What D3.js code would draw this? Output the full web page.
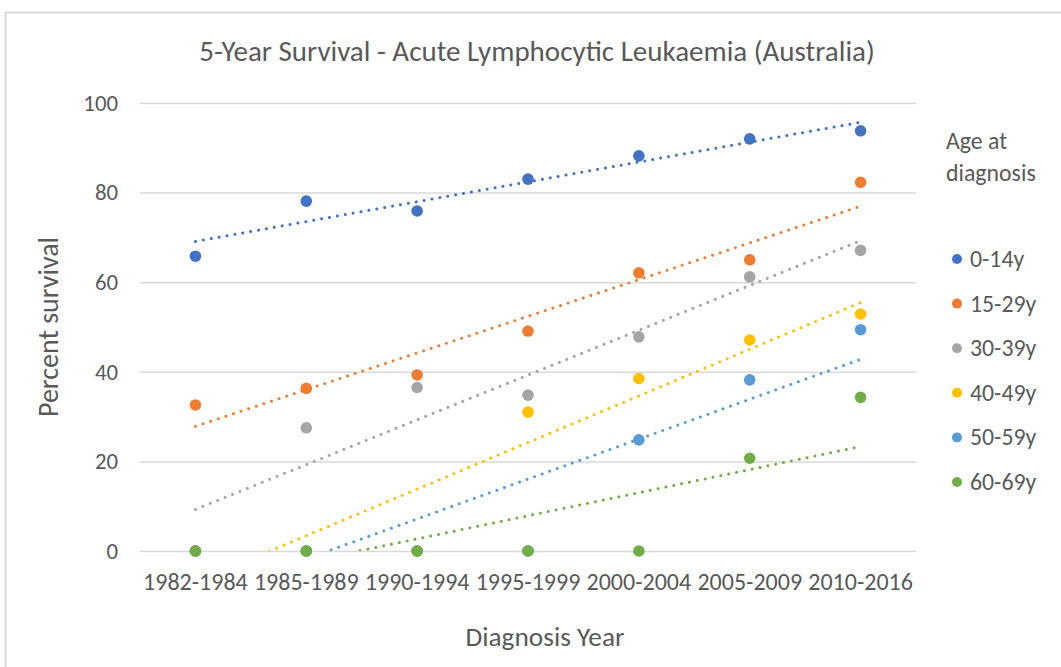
<!DOCTYPE html>
<html><head><meta charset="utf-8">
<script src="https://cdn.jsdelivr.net/npm/d3@7"></script>
<style>
body{margin:0;background:#fff}
text{font-family:Carlito,Calibri,Lato,sans-serif;fill:#595959}
</style>
</head><body>
<svg id="c" width="1061" height="667"></svg>
<script>
const categories = ["1982-1984","1985-1989","1990-1994","1995-1999","2000-2004","2005-2009","2010-2016"];
const seriesNames = ["0-14y","15-29y","30-39y","40-49y","50-59y","60-69y"];
const s0_14  = [65.8,78.1,75.9,83.0,88.2,92.0,93.8];
const s15_29 = [32.6,36.3,39.3,49.1,62.1,65.0,82.3];
const s30_39 = [0,27.5,36.5,34.8,47.8,61.2,67.1];
const s40_49 = [0,0,0,31.0,38.5,47.1,52.9];
const s50_59 = [0,0,0,0,24.8,38.2,49.4];
const s60_69 = [0,0,0,0,0,20.7,34.3];
const seriesValues = [s0_14,s15_29,s30_39,s40_49,s50_59,s60_69];
const colors = ["#4472C4","#ED7D31","#A5A5A5","#FFC000","#5B9BD5","#70AD47"];
const yTicks = [0,20,40,60,80,100];
const chartTitle = "5-Year Survival - Acute Lymphocytic Leukaemia (Australia)";
const xTitle = "Diagnosis Year";
const yTitle = "Percent survival";
const legendTitle = ["Age at","diagnosis"];

const svg = d3.select("#c");
const L = 140, R = 916, T = 103, B = 551;

// outer frame
svg.append("path").attr("d",`M5.5,667 V12.5 H1061`).attr("fill","none").attr("stroke","#d9d9d9").attr("stroke-width",2);

const x = d3.scaleBand().domain(categories).range([L,R]);
const y = d3.scaleLinear().domain([0,100]).range([B,T]);
const cx = c => x(c) + x.bandwidth()/2;

// y gridlines + labels
const ya = svg.append("g").attr("transform",`translate(${L},0)`)
  .call(d3.axisLeft(y).tickValues(yTicks).tickSize(-(R-L)).tickPadding(22));
ya.select(".domain").remove();
ya.selectAll(".tick line").attr("stroke","#d9d9d9").attr("stroke-width",1.5);
ya.selectAll(".tick text").attr("font-size",22.8).attr("font-family",null).attr("fill","#595959");

// x labels
const xa = svg.append("g").attr("transform",`translate(0,${B})`)
  .call(d3.axisBottom(x).tickSize(0).tickPadding(39));
xa.select(".domain").remove();
xa.selectAll(".tick text").attr("font-size",24).attr("font-family",null).attr("fill","#595959").attr("dy","0");

// clip
svg.append("clipPath").attr("id","pc").append("rect").attr("x",L).attr("y",T).attr("width",R-L).attr("height",B-T);

// trendlines (least squares on category index)
const gT = svg.append("g").attr("clip-path","url(#pc)");
seriesValues.forEach((vals,i)=>{
  const xs = vals.map((v,k)=>k+1);
  const mx = d3.mean(xs), my = d3.mean(vals);
  const slope = d3.sum(xs,(xv,k)=>(xv-mx)*(vals[k]-my))/d3.sum(xs,xv=>(xv-mx)*(xv-mx));
  const icpt = my - slope*mx;
  const ix = d3.scaleLinear().domain([1,7]).range([cx(categories[0]),cx(categories[6])]);
  gT.append("line")
    .attr("x1",ix(1)).attr("y1",y(icpt+slope*1))
    .attr("x2",ix(7)).attr("y2",y(icpt+slope*7))
    .attr("stroke",colors[i]).attr("stroke-width",3)
    .attr("stroke-linecap","round").attr("stroke-dasharray","0.01,8");
});

// points
seriesValues.forEach((vals,i)=>{
  svg.append("g").selectAll("circle").data(vals).join("circle")
    .attr("cx",(d,k)=>cx(categories[k])).attr("cy",d=>y(d))
    .attr("r",5.8).attr("fill",colors[i]);
});

// titles
svg.append("text").attr("x",537).attr("y",61).attr("text-anchor","middle")
  .attr("font-size",29).text(chartTitle);
svg.append("text").attr("x",545).attr("y",646).attr("text-anchor","middle")
  .attr("font-size",27.3).text(xTitle);
svg.append("text").attr("transform","translate(58,327) rotate(-90)").attr("text-anchor","middle")
  .attr("font-size",28).text(yTitle);

// legend
const lg = svg.append("g");
legendTitle.forEach((t,k)=>lg.append("text").attr("x",946).attr("y",149+k*32).attr("font-size",23.8).text(t));
seriesNames.forEach((n,i)=>{
  const yy = 259 + i*44.6;
  lg.append("circle").attr("cx",957).attr("cy",yy).attr("r",5).attr("fill",colors[i]);
  lg.append("text").attr("x",970).attr("y",yy+8).attr("font-size",23.8).text(n);
});
</script>
</body></html>
